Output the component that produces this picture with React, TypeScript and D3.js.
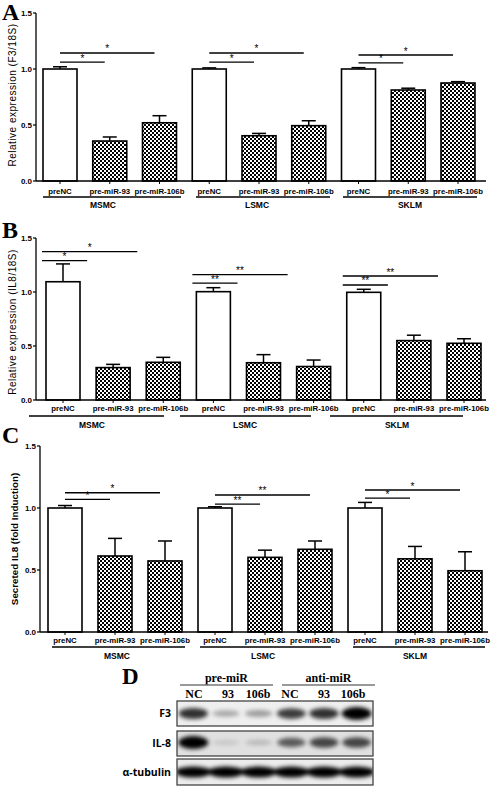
import React from "react";
import * as d3 from "d3";

// ---------- data ----------
const groups = ["MSMC", "LSMC", "SKLM"];
const conditions = ["preNC", "pre-miR-93", "pre-miR-106b"];
const yTicks = [0, 0.5, 1.0, 1.5];

const aMeans = [1.0, 0.357, 0.52, 1.0, 0.404, 0.494, 1.0, 0.8125, 0.875];
const aErrors = [0.02, 0.036, 0.063, 0.01, 0.021, 0.044, 0.012, 0.016, 0.012];
const aStars = [["*", "*"], ["*", "*"], ["*", "*"]];
const aBracketShort = [1.062, 1.062, 1.054];
const aBracketLong = [1.143, 1.143, 1.125];

const bMeans = [1.095, 0.3, 0.349, 1.003, 0.345, 0.31, 0.997, 0.55, 0.525];
const bErrors = [0.165, 0.03, 0.046, 0.037, 0.075, 0.06, 0.028, 0.05, 0.042];
const bStars = [["*", "*"], ["**", "**"], ["**", "**"]];
const bBracketShort = [1.29, 1.083, 1.065];
const bBracketLong = [1.373, 1.16, 1.148];

const cMeans = [1.0, 0.613, 0.573, 1.0, 0.602, 0.667, 1.0, 0.59, 0.494];
const cErrors = [0.02, 0.142, 0.161, 0.01, 0.058, 0.067, 0.045, 0.1, 0.153];
const cStars = [["*", "*"], ["**", "**"], ["*", "*"]];
const cBracketShort = [1.07, 1.032, 1.08];
const cBracketLong = [1.123, 1.105, 1.145];

// western blot
const blotGroups = ["pre-miR", "anti-miR"];
const blotLanes = ["NC", "93", "106b", "NC", "93", "106b"];
const blotRows = ["F3", "IL-8", "α-tubulin"];
const f3Bands = [0.8, 0.3, 0.35, 0.75, 0.8, 1.0];
const il8Bands = [1.0, 0.12, 0.18, 0.6, 0.7, 0.7];
const tubulinBands = [1.0, 1.0, 1.0, 1.0, 1.0, 1.0];

// ---------- layout ----------
const SANS = "'Liberation Sans', Arial, sans-serif";
const SERIF = "'Liberation Serif', 'Times New Roman', serif";

type PanelCfg = {
  letter: string;
  letterY: number;
  title: string;
  titleBold: boolean;
  titleX: number;
  titleY: number;
  yTop: number;
  yBottom: number;
  axisX: number;
  c0: number;
  c8: number;
  axisEnd: number;
  labelY: number;
  groupLineY: number;
  groupLabelY: number;
  groupLines: number[][];
  groupLabelX: number[];
  shiftStart: number;
  shiftEnd: number;
  means: number[];
  errors: number[];
  stars: string[][];
  bShort: number[];
  bLong: number[];
};

const panels: PanelCfg[] = [
  {
    letter: "A", letterY: 20, title: "Relative expression (F3/18S)", titleBold: false,
    titleX: 12, titleY: 95, yTop: 13, yBottom: 181, axisX: 36, c0: 60, c8: 458, axisEnd: 486,
    labelY: 194, groupLineY: 197, groupLabelY: 208,
    groupLines: [[43, 181], [196, 330], [343, 477]], groupLabelX: [103, 257, 410],
    shiftStart: 0, shiftEnd: -5,
    means: aMeans, errors: aErrors, stars: aStars, bShort: aBracketShort, bLong: aBracketLong,
  },
  {
    letter: "B", letterY: 238, title: "Relative expression (IL8/18S)", titleBold: false,
    titleX: 12, titleY: 322, yTop: 238, yBottom: 400, axisX: 36, c0: 63, c8: 464, axisEnd: 486,
    labelY: 411, groupLineY: 416, groupLabelY: 428,
    groupLines: [[29, 164], [180, 311], [330, 463]], groupLabelX: [92, 245, 397],
    shiftStart: -21, shiftEnd: -26,
    means: bMeans, errors: bErrors, stars: bStars, bShort: bBracketShort, bLong: bBracketLong,
  },
  {
    letter: "C", letterY: 443, title: "Secreted IL8 (fold Induction)", titleBold: true,
    titleX: 15, titleY: 539, yTop: 446, yBottom: 632, axisX: 40, c0: 65, c8: 465, axisEnd: 488,
    labelY: 643, groupLineY: 647, groupLabelY: 659,
    groupLines: [[52, 185], [200, 331], [353, 485]], groupLabelX: [117, 263, 415],
    shiftStart: 0, shiftEnd: -5,
    means: cMeans, errors: cErrors, stars: cStars, bShort: cBracketShort, bLong: cBracketLong,
  },
];

const BAR_W = 34;
const CAP = 14;

function Panel({ p }: { p: PanelCfg }) {
  const y = d3.scaleLinear().domain([0, 1.5]).range([p.yBottom, p.yTop]);
  const x = d3.scaleLinear().domain([0, 8]).range([p.c0, p.c8]);
  const labels = groups.flatMap(() => conditions);
  return (
    <g>
      <text x={2} y={p.letterY} fontFamily={SERIF} fontWeight="bold" fontSize={24}>{p.letter}</text>
      <text
        transform={`translate(${p.titleX},${p.titleY}) rotate(-90)`}
        textAnchor="middle" dy="0.35em" fontFamily={SANS}
        fontSize={p.titleBold ? 9.8 : 10} fontWeight={p.titleBold ? "bold" : "normal"}
        letterSpacing={p.titleBold ? 0 : 0.5}
      >{p.title}</text>
      {/* y axis */}
      <line x1={p.axisX} x2={p.axisX} y1={y(1.5)} y2={y(0)} stroke="#000" strokeWidth={1.3} />
      {yTicks.map((t) => (
        <g key={t}>
          <line x1={p.axisX - 3} x2={p.axisX} y1={y(t)} y2={y(t)} stroke="#000" strokeWidth={1.2} />
          <text x={p.axisX - 4} y={y(t)} dy="0.35em" textAnchor="end" fontFamily={SANS} fontWeight="bold" fontSize={8}>
            {d3.format(".1f")(t)}
          </text>
        </g>
      ))}
      {/* bars */}
      {p.means.map((m, i) => {
        const cx = x(i);
        const isCtrl = i % 3 === 0;
        return (
          <g key={i}>
            <line x1={cx} x2={cx} y1={y(m)} y2={y(m + p.errors[i])} stroke="#000" strokeWidth={1.5} />
            <line x1={cx - CAP / 2} x2={cx + CAP / 2} y1={y(m + p.errors[i])} y2={y(m + p.errors[i])} stroke="#000" strokeWidth={1.5} />
            <rect x={cx - BAR_W / 2} y={y(m)} width={BAR_W} height={y(0) - y(m)}
              fill={isCtrl ? "#fff" : "url(#checker)"} stroke="#000" strokeWidth={1.6} />
          </g>
        );
      })}
      {/* x axis */}
      <line x1={p.axisX} x2={p.axisEnd} y1={y(0)} y2={y(0)} stroke="#000" strokeWidth={1.3} />
      {labels.map((l, i) => (
        <g key={i}>
          <line x1={x(i)} x2={x(i)} y1={y(0)} y2={y(0) + 3} stroke="#000" strokeWidth={1} />
          <text x={x(i)} y={p.labelY} textAnchor="middle" fontFamily={SANS} fontWeight="bold" fontSize={7.8}>{l}</text>
        </g>
      ))}
      {groups.map((g, gi) => (
        <g key={g}>
          <line x1={p.groupLines[gi][0]} x2={p.groupLines[gi][1]} y1={p.groupLineY} y2={p.groupLineY} stroke="#000" strokeWidth={1.4} />
          <text x={p.groupLabelX[gi]} y={p.groupLabelY} textAnchor="middle" fontFamily={SANS} fontWeight="bold" fontSize={8.5}>{g}</text>
        </g>
      ))}
      {/* significance brackets */}
      {groups.map((g, gi) => {
        const s = x(gi * 3) + p.shiftStart;
        const e1 = x(gi * 3 + 1) + p.shiftEnd;
        const e2 = x(gi * 3 + 2) + p.shiftEnd;
        const ys = y(p.bShort[gi]);
        const yl = y(p.bLong[gi]);
        return (
          <g key={"b" + g}>
            <line x1={s} x2={e1} y1={ys} y2={ys} stroke="#000" strokeWidth={1.3} />
            <text x={(s + e1) / 2} y={ys - 0.5} textAnchor="middle" fontFamily={SANS} fontSize={10}>{p.stars[gi][0]}</text>
            <line x1={s} x2={e2} y1={yl} y2={yl} stroke="#000" strokeWidth={1.3} />
            <text x={(s + e2) / 2} y={yl - 0.5} textAnchor="middle" fontFamily={SANS} fontSize={10}>{p.stars[gi][1]}</text>
          </g>
        );
      })}
    </g>
  );
}

function Blot() {
  const boxX0 = 177;
  const boxX1 = 373;
  const lane = d3.scaleBand<number>().domain(d3.range(blotLanes.length)).range([boxX0, boxX1]);
  const rowBoxes = [[701, 726], [731, 756], [759, 785]];
  const rowFill = ["#efefef", "#e0e0e0", "#ececec"];
  const rowData = [f3Bands, il8Bands, tubulinBands];
  const labelX = [194, 228, 258, 290, 324, 353];
  return (
    <g>
      <text x={122} y={684} fontFamily={SERIF} fontWeight="bold" fontSize={23}>D</text>
      {blotGroups.map((g, gi) => {
        const x0 = gi === 0 ? 180 : 282;
        const x1 = gi === 0 ? 273 : 375;
        return (
          <g key={g}>
            <text x={(x0 + x1) / 2} y={682} textAnchor="middle" fontFamily={SERIF} fontWeight="bold" fontSize={12}>{g}</text>
            <line x1={x0} x2={x1} y1={685} y2={685} stroke="#777" strokeWidth={1.3} />
          </g>
        );
      })}
      {blotLanes.map((l, i) => (
        <text key={i} x={labelX[i]} y={698} textAnchor="middle" fontFamily={SERIF} fontWeight="bold" fontSize={12}>{l}</text>
      ))}
      {blotRows.map((r, ri) => {
        const [t, b] = rowBoxes[ri];
        const cy = (t + b) / 2;
        return (
          <g key={r}>
            <text x={171} y={cy} dy="0.35em" textAnchor="end" fontFamily={"'Open Sans', " + SANS} fontWeight="bold" fontSize={10.5}>{r}</text>
            <rect x={boxX0} y={t} width={boxX1 - boxX0} height={b - t} fill={rowFill[ri]} />
            <g filter="url(#blur)" clipPath={`url(#clip${ri})`}>
              {rowData[ri].map((v, li) => (
                <ellipse key={li}
                  cx={(lane(li) as number) + lane.bandwidth() / 2}
                  cy={cy + (ri === 1 ? -1 : 0)}
                  rx={ri === 2 ? 18 : 13 + 2 * v}
                  ry={ri === 2 ? 5.5 : 2 + 4.5 * v}
                  fill="#000" fillOpacity={v} />
              ))}
            </g>
            <rect x={boxX0} y={t} width={boxX1 - boxX0} height={b - t} fill="none" stroke="#444" strokeWidth={1.3} />
          </g>
        );
      })}
    </g>
  );
}

export default function App() {
  return (
    <svg width={492} height={788} style={{ position: "absolute", left: 0, top: 0, background: "#fff" }}>
      <defs>
        <pattern id="checker" width={4} height={4} patternUnits="userSpaceOnUse">
          <rect width={4} height={4} fill="#fff" />
          <rect width={2} height={2} fill="#000" />
          <rect x={2} y={2} width={2} height={2} fill="#000" />
        </pattern>
        <filter id="blur" x="-20%" y="-50%" width="140%" height="200%">
          <feGaussianBlur stdDeviation={2.2} />
        </filter>
        <clipPath id="clip0"><rect x={177} y={701} width={196} height={25} /></clipPath>
        <clipPath id="clip1"><rect x={177} y={731} width={196} height={25} /></clipPath>
        <clipPath id="clip2"><rect x={177} y={759} width={196} height={26} /></clipPath>
      </defs>
      <rect width={492} height={788} fill="#fff" />
      {panels.map((p) => <Panel key={p.letter} p={p} />)}
      <Blot />
    </svg>
  );
}
